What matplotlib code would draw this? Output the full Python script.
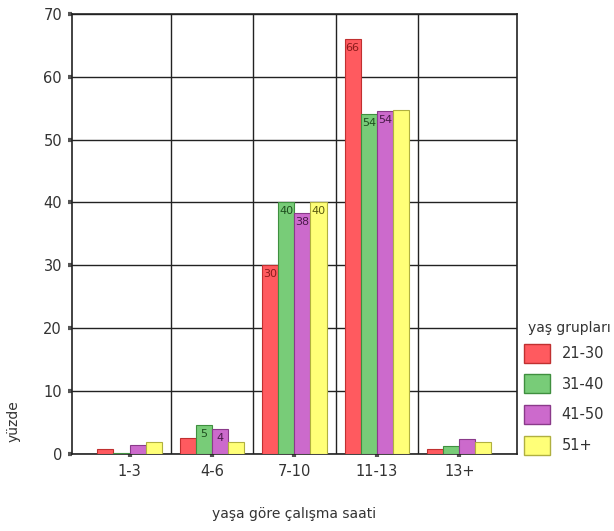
import numpy as np
import matplotlib.pyplot as plt
from matplotlib.patches import Patch

categories = ["1-3", "4-6", "7-10", "11-13", "13+"]
groups = ["21-30", "31-40", "41-50", "51+"]
v_21_30 = [0.8, 2.6, 30, 66, 0.8]
v_31_40 = [0.2, 4.6, 40, 54, 1.2]
v_41_50 = [1.5, 4.0, 38.3, 54.5, 2.4]
v_51 = [1.9, 1.9, 40, 54.7, 1.9]
labels_21_30 = ["", "", "30", "66", ""]
labels_31_40 = ["", "5", "40", "54", ""]
labels_41_50 = ["", "4", "38", "54", ""]
labels_51 = ["", "", "40", "", ""]

faces = ["#ff5a5f", "#78cc78", "#cc6acc", "#ffff78"]
edges = ["#c03030", "#3f8f3f", "#8a3a8a", "#b0b040"]
txtc = ["#8a1a1a", "#1f4f1f", "#4a1a4a", "#5a5a10"]

plt.rcParams['font.family'] = ['DejaVu Sans']
fig = plt.figure(figsize=(6.14, 5.31), dpi=100)
ax = fig.add_axes([0.117, 0.145, 0.725, 0.829])

x = np.arange(len(categories))
w = 0.195
offs = [-1.5 * w, -0.5 * w, 0.5 * w, 1.5 * w]
series = [v_21_30, v_31_40, v_41_50, v_51]
labs = [labels_21_30, labels_31_40, labels_41_50, labels_51]

ax.set_xlim(-0.7, 4.7)
ax.set_ylim(0, 70)
ax.set_yticks(range(0, 71, 10))
ax.set_xticks(x)
ax.set_xticklabels(categories)
ax.yaxis.grid(True, color="#222222", lw=1.0)
for b in [0.5, 1.5, 2.5, 3.5]:
    ax.axvline(b, color="#222222", lw=1.0, zorder=0)
ax.set_axisbelow(True)

for i in range(4):
    bars = ax.bar(x + offs[i], series[i], w, color=faces[i], edgecolor=edges[i],
                  lw=0.8, zorder=3)
    for j, bar in enumerate(bars):
        if labs[i][j]:
            ax.text(bar.get_x() + w / 2, series[i][j] - 0.6, labs[i][j],
                    ha="center", va="top", fontsize=8, color=txtc[i], zorder=4)

for s in ax.spines.values():
    s.set_color("#222222")
    s.set_linewidth(1.2)
ax.tick_params(axis="y", length=3, width=3, color="#555555", labelsize=10.5,
               labelcolor="#333333", pad=4)
ax.tick_params(axis="x", length=2, width=3, color="#555555", labelsize=10.5,
               labelcolor="#333333", pad=5)

ax.set_xlabel("yaşa göre çalışma saati", fontsize=10, color="#333333")
ax.xaxis.set_label_coords(0.5, -0.12)
ax.set_ylabel("yüzde", fontsize=10, color="#333333")
ax.yaxis.set_label_coords(-0.115, 0.075)

# legend (title drawn separately for tighter spacing)
fig.text(528 / 614, 1 - 328 / 531, "yaş grupları", fontsize=10, color="#333333",
         ha="left", va="center")
handles = [Patch(facecolor=faces[i], edgecolor=edges[i], lw=1.0, label=groups[i])
           for i in range(4)]
leg = fig.legend(handles=handles, loc="lower left", bbox_to_anchor=(0.853, 0.144),
                 frameon=False, fontsize=10.5, handlelength=1.8, handleheight=1.62,
                 labelspacing=0.8, handletextpad=0.8, borderaxespad=0,
                 borderpad=0)
for t in leg.get_texts():
    t.set_color("#333333")

fig.savefig("out.png", dpi=100)
